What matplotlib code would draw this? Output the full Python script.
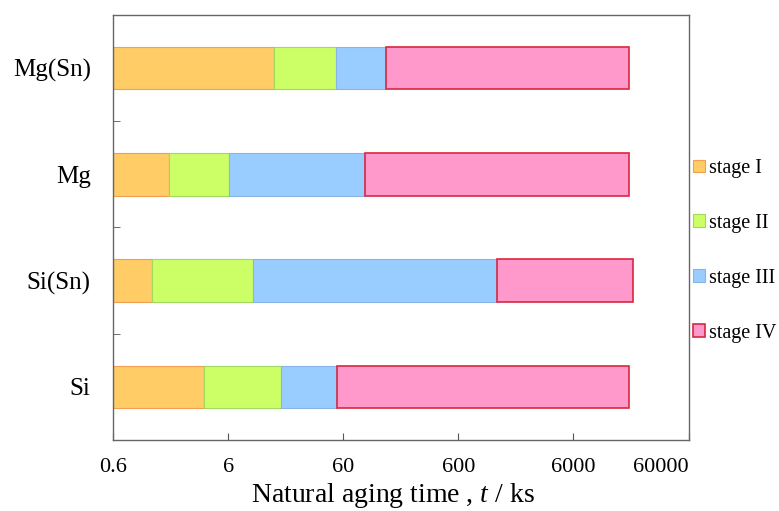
import numpy as np
import matplotlib
matplotlib.use('Agg')
import matplotlib.pyplot as plt

plt.rcParams['font.family'] = ['Liberation Serif', 'DejaVu Serif']
plt.rcParams['mathtext.fontset'] = 'custom'
plt.rcParams['mathtext.rm'] = 'Liberation Serif'
plt.rcParams['mathtext.it'] = 'Liberation Serif:italic'

# samples, bottom to top
samples = ['Si', 'Si(Sn)', 'Mg', 'Mg(Sn)']
stages = ['stage I', 'stage II', 'stage III', 'stage IV']
# end time of each stage (ks)
stage_end = {
    'stage I':   [3.7, 1.32, 1.83, 15.1],
    'stage II':  [17.3, 9.85, 6.1, 52.0],
    'stage III': [53.0, 1290.0, 93.0, 140.0],
    'stage IV':  [18100.0, 19600.0, 18100.0, 18100.0],
}
t_start = 0.6
xticks = [0.6, 6, 60, 600, 6000, 60000]
xticklabels = ['0.6', '6', '60', '600', '6000', '60000']

fills = ['#FFCC66', '#CCFF66', '#99CCFF', '#FF99CC']
edges = ['#F0A050', '#A0D860', '#88B4E8', '#D82840']

fig = plt.figure(figsize=(7.79, 5.11), dpi=100)
ax = fig.add_axes([0.145, 0.139, 0.739, 0.832])

y = np.arange(len(samples))
left = np.full(len(samples), t_start)
for st, fc, ec in zip(stages, fills, edges):
    right = np.array(stage_end[st])
    ax.barh(y, right - left, left=left, height=0.4, color=fc,
            edgecolor=ec, linewidth=1.2 if st == 'stage IV' else 0.8, label=st)
    left = right

ax.set_xscale('log')
ax.set_xlim(0.6, 60000)
ax.set_ylim(-0.5, 3.5)
ax.set_xticks(xticks)
ax.set_xticklabels(xticklabels)
ax.xaxis.set_minor_locator(matplotlib.ticker.NullLocator())
ax.tick_params(axis='x', direction='in', length=5, labelsize=16, pad=13,
               color='#555555')
# last label sits inside the figure edge
ax.get_xticklabels()[-1].set_horizontalalignment('right')

# category labels without marks, small marks between categories
ax.set_yticks(y)
ax.set_yticklabels(samples)
ax.tick_params(axis='y', length=0, labelsize=18, pad=16)
ax.set_yticks([0.5, 1.5, 2.5], minor=True)
ax.tick_params(axis='y', which='minor', direction='in', length=5, color='#555555')

for s in ax.spines.values():
    s.set_color('#666666')
    s.set_linewidth(1.0)

ax.set_xlabel('Natural aging time , $\\mathit{t}$ / ks', fontsize=20)
ax.xaxis.set_label_coords(0.486, -0.096)

ax.legend(loc='center left', bbox_to_anchor=(1.0, 0.445), frameon=False,
          fontsize=14.5, handlelength=0.6, handleheight=0.6, handletextpad=0.22,
          labelspacing=1.78, borderpad=0, borderaxespad=0.2)

fig.savefig('out.png', dpi=100)
